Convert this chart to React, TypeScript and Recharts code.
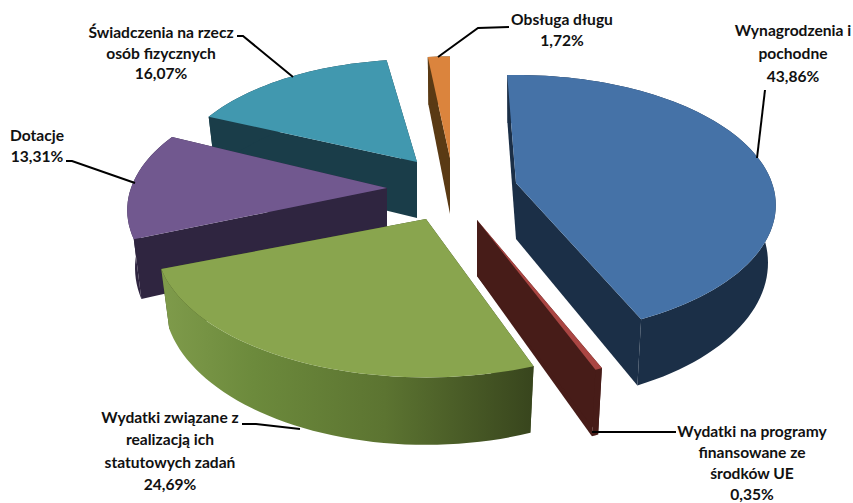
import React from "react";
import { PieChart, Pie, Cell } from "recharts";

// Drawn back to front: the pie runs counter-clockwise from the top, so later slices sit on top
const categories = [
  ["Obsługa długu"],
  ["Świadczenia na rzecz", "osób fizycznych"],
  ["Dotacje"],
  ["Wydatki związane z", "realizacją ich", "statutowych zadań"],
  ["Wydatki na programy", "finansowane ze", "środków UE"],
  ["Wynagrodzenia i", "pochodne"],
];
const shares = [1.72, 16.07, 13.31, 24.69, 0.35, 43.86];
const topColors = ["#db843d", "#4198af", "#71588f", "#89a54e", "#aa4643", "#4572a7"];
const sideColors = ["#5a3a14", "#1a3d49", "#2f2540", "url(#greenWall)", "#471c18", "#1b2f47"];
const cutColors = ["#5a3a14", "#1a3d49", "#2f2540", "#3c4a1f", "#471c18", "#1b2f47"];

const data = categories.map((lines, i) => ({ name: lines.join(" "), value: shares[i] }));

const CX = 440;
const CY = 190;
const RADIUS = 100;
const RX = 2.56; // horizontal stretch of the disc
const RY = 1.264; // vertical stretch of the disc
const PERSP = 0.17;
const DEPTH = 56;

// explosion offset, size and small rotation of every slice
const explode = [
  { dx: 10, dy: -32, scale: 0.94, rot: 2.5 },
  { dx: -23, dy: -28, scale: 0.95, rot: 0.3 },
  { dx: -53, dy: -2, scale: 1, rot: 2.2 },
  { dx: -14, dy: 29, scale: 1.04, rot: 3.5 },
  { dx: 37, dy: 30, scale: 1.07, rot: 2 },
  { dx: 76, dy: -7, scale: 1, rot: 0.2 },
];

// label centre, first baseline, line gap and leader line, in chart pixels
const labelSpots = [
  { x: 562, y: 25, gap: 21, line: [[438, 57], [478, 28], [509, 27]] },
  { x: 161, y: 38, gap: 20.5, line: [[293, 77], [243, 36], [237, 36]] },
  { x: 37, y: 141, gap: 21, line: [[135, 183], [72, 161], [66, 161]] },
  { x: 170, y: 423, gap: 22.3, line: [[300, 429], [256, 424], [242, 424]] },
  { x: 752, y: 437, gap: 21, line: [[592, 432], [676, 432]] },
  { x: 793, y: 36, gap: 23, line: [[757, 158], [765, 90]] },
];

const project = (deg: number, i: number) => {
  const cfg = explode[i];
  const t = ((deg + cfg.rot) * Math.PI) / 180;
  const s = 1 / (1 + PERSP * Math.cos(t));
  const r = RADIUS * cfg.scale;
  return { x: r * RX * Math.sin(t) * s, y: -r * RY * Math.cos(t) * s, s };
};

const Slice3D = (props: any) => {
  const { cx, cy, startAngle, endAngle, index, fill } = props;
  const cfg = explode[index];
  const ax = cx + cfg.dx;
  const ay = cy + cfg.dy;
  // library angles are counter-clockwise from 3 o'clock, the disc uses clockwise from 12
  const a0 = 90 - startAngle;
  const a1 = 90 - endAngle;
  const steps = Math.max(2, Math.ceil(Math.abs(a1 - a0) / 2));
  const top: [number, number][] = [];
  const bottom: [number, number][] = [];
  for (let k = 0; k <= steps; k++) {
    const p = project(a0 + ((a1 - a0) * k) / steps, index);
    top.push([ax + p.x, ay + p.y]);
    bottom.push([ax + p.x * 0.97, ay + p.y + DEPTH * p.s]);
  }
  const apexTop: [number, number] = [ax, ay];
  const apexBottom: [number, number] = [ax, ay + DEPTH];
  const path = (pts: [number, number][]) => "M" + pts.map((p) => p.join(",")).join("L") + "Z";
  const cut = cutColors[index];
  return (
    <g>
      <path d={path([apexTop, top[0], bottom[0], apexBottom])} fill={cut} />
      <path d={path([apexTop, top[steps], bottom[steps], apexBottom])} fill={cut} />
      <path d={path([...top, ...[...bottom].reverse()])} fill={sideColors[index]} />
      <path d={path([apexTop, ...top])} fill={fill} />
    </g>
  );
};

const textStyle: React.CSSProperties = {
  fontFamily: "Lato, sans-serif",
  fontSize: 15.6,
  fontWeight: 700,
  fill: "#111",
};

const SliceLabel = (props: any) => {
  const { index } = props;
  const spot = labelSpots[index];
  const lines = [...categories[index], shares[index].toFixed(2).replace(".", ",") + "%"];
  return (
    <g>
      <polyline
        points={spot.line.map((p) => p.join(",")).join(" ")}
        fill="none"
        stroke="#000"
        strokeWidth={2}
      />
      <text textAnchor="middle" style={textStyle}>
        {lines.map((l, k) => (
          <tspan key={k} x={spot.x} y={spot.y + k * spot.gap}>
            {l}
          </tspan>
        ))}
      </text>
    </g>
  );
};

export default function App() {
  return (
    <div style={{ position: "absolute", left: 0, top: 0, background: "#fff" }}>
      <PieChart width={853} height={503} margin={{ top: 0, right: 0, bottom: 0, left: 0 }}>
        <defs>
          <linearGradient id="greenWall" x1="0" y1="0" x2="1" y2="0">
            <stop offset="0" stopColor="#7f9b4b" />
            <stop offset="0.25" stopColor="#6c8a3c" />
            <stop offset="0.6" stopColor="#5c7431" />
            <stop offset="1" stopColor="#38451d" />
          </linearGradient>
        </defs>
        <Pie
          data={data}
          dataKey="value"
          nameKey="name"
          cx={CX}
          cy={CY}
          outerRadius={RADIUS}
          startAngle={92.5}
          endAngle={452.5}
          paddingAngle={0}
          stroke="none"
          isAnimationActive={false}
          shape={Slice3D}
          label={SliceLabel}
          labelLine={false}
        >
          {data.map((d, i) => (
            <Cell key={d.name} fill={topColors[i]} />
          ))}
        </Pie>
      </PieChart>
    </div>
  );
}
